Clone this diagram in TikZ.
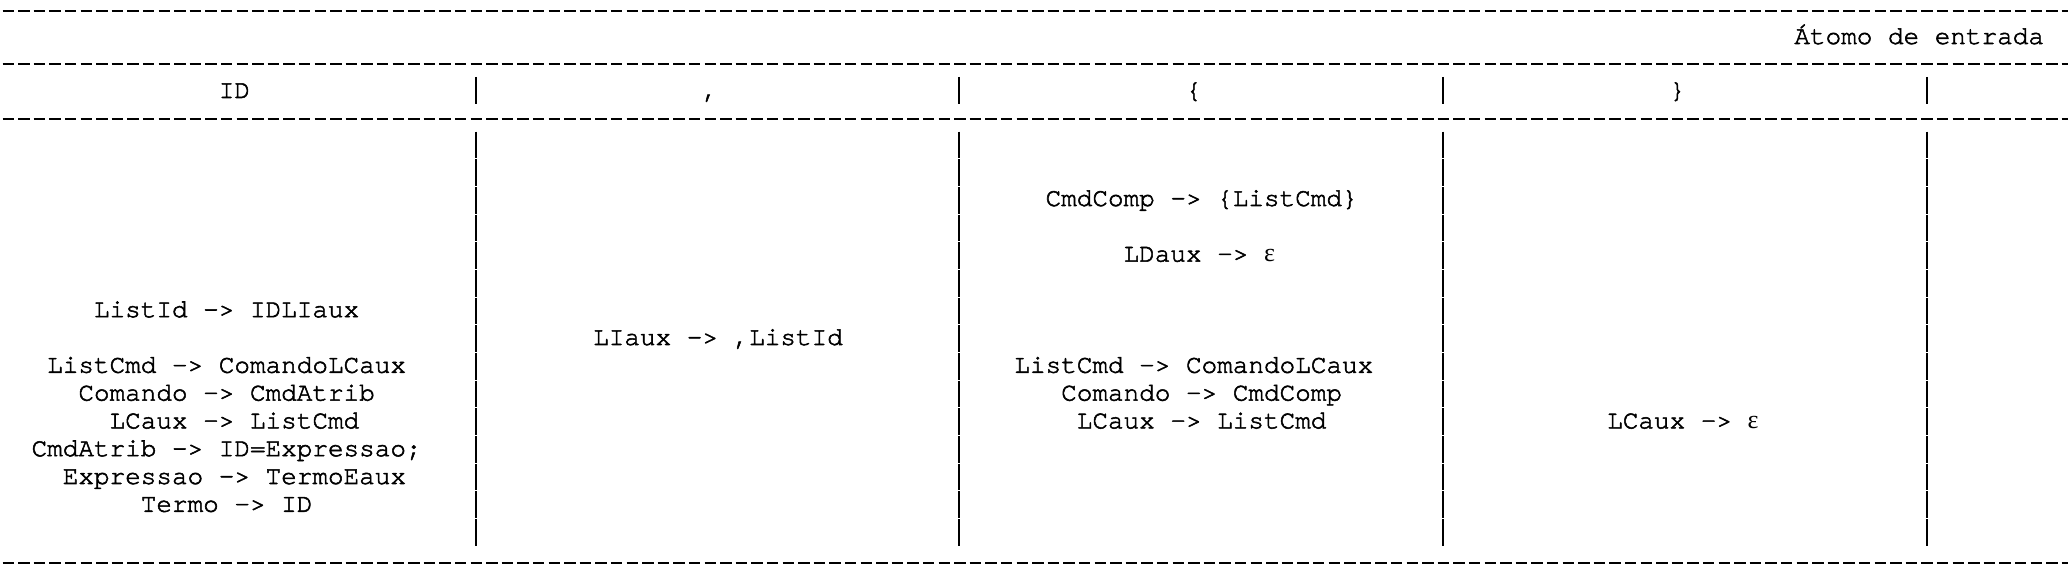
\documentclass[tikz,border=0pt]{standalone}
\usepackage{fontspec}
\setmonofont[FakeBold=2]{TeX Gyre Cursor}
\newfontfamily\grego{Liberation Serif}
\usetikzlibrary{calc}

\begin{document}
\begin{tikzpicture}[x=0.5pt,y=-0.5pt,
		traco/.style={line width=1.4pt,dash pattern=on 5.7pt off 2.1pt},
		barra/.style={line width=1pt},
		barras/.style={barra,dash pattern=on 13.3pt off 0.535pt},
		regra/.style={anchor=base west,inner sep=0pt,font=\fontsize{13}{13}\ttfamily}]
			\useasboundingbox (0,0) rectangle (2068,576);
			%linhas tracejadas
			\foreach \y [count=\n] in {11,64,119,563}
			{
				\coordinate (t\n a) at (2.5,\y);
				\coordinate (t\n b) at (2068,\y);
				\draw[traco] (t\n a) -- (t\n b);
			}
			%barras verticais
			\foreach \c [count=\k] in {30,61,92,123}
			{
				\coordinate (h\k a) at ({(\c+0.5)*15.6},77);
				\coordinate (h\k b) at ({(\c+0.5)*15.6},104);
				\draw[barra] (h\k a) -- (h\k b);
				\coordinate (c\k a) at ({(\c+0.5)*15.6},131.7);
				\coordinate (c\k b) at ({(\c+0.5)*15.6},546.7);
				\draw[barras] (c\k a) -- (c\k b);
			}
			%cabecalho
			\node[regra] (atomo) at (1794,44) {Átomo de entrada};
			\node[regra] (tid) at (218.4,98) {ID};
			\node[regra] (tvirg) at (702,98) {,};
			\node[regra] (tabre) at (1185.6,98) {\{};
			\node[regra] (tfecha) at (1669.2,98) {\}};
			%coluna ID
			\node[regra] (id1) at (93.6,317.2) {ListId -> IDLIaux};
			\node[regra] (id2) at (46.8,372.8) {ListCmd -> ComandoLCaux};
			\node[regra] (id3) at (78,400.6) {Comando -> CmdAtrib};
			\node[regra] (id4) at (109.2,428.4) {LCaux -> ListCmd};
			\node[regra] (id5) at (31.2,456.2) {CmdAtrib -> ID=Expressao;};
			\node[regra] (id6) at (62.4,484) {Expressao -> TermoEaux};
			\node[regra] (id7) at (140.4,511.8) {Termo -> ID};
			%coluna ,
			\node[regra] (virg1) at (592.8,345) {LIaux -> ,ListId};
			%coluna {
			\node[regra] (abre1) at (1045.2,206) {CmdComp -> \{ListCmd\}};
			\node[regra] (abre2) at (1123.2,261.6) {LDaux -> {\grego ε}};
			\node[regra] (abre3) at (1014,372.8) {ListCmd -> ComandoLCaux};
			\node[regra] (abre4) at (1060.8,400.6) {Comando -> CmdComp};
			\node[regra] (abre5) at (1076.4,428.4) {LCaux -> ListCmd};
			%coluna }
			\node[regra] (fecha1) at (1606.8,428.4) {LCaux -> {\grego ε}};
		\end{tikzpicture}
\end{document}
